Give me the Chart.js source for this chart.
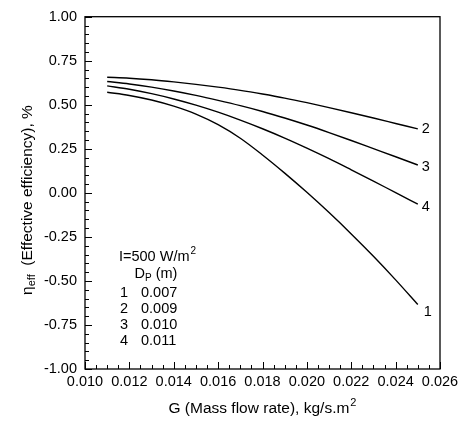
<!DOCTYPE html>
<html><head><meta charset="utf-8">
<script src="https://cdn.jsdelivr.net/npm/chart.js@4"></script>
<style>html,body{margin:0;padding:0;background:#fff;overflow:hidden}#wrap{width:468px;height:423px}</style>
</head><body><div id="wrap"><canvas id="c" width="468" height="423"></canvas></div>
<script>
// ---- data ----
const massFlow = [0.011,0.012,0.013,0.014,0.015,0.016,0.017,0.018,0.019,0.020,0.021,0.022,0.023,0.024,0.025];
const eta1 = [0.571,0.553,0.527,0.492,0.447,0.387,0.310,0.215,0.112,0.003,-0.112,-0.233,-0.360,-0.494,-0.634]; // Dp 0.007
const eta2 = [0.656,0.651,0.642,0.630,0.616,0.600,0.582,0.561,0.538,0.512,0.484,0.455,0.425,0.394,0.363]; // Dp 0.009
const eta3 = [0.632,0.618,0.600,0.578,0.553,0.525,0.495,0.462,0.425,0.385,0.342,0.297,0.251,0.205,0.158]; // Dp 0.010
const eta4 = [0.607,0.588,0.563,0.533,0.498,0.458,0.413,0.364,0.311,0.254,0.194,0.131,0.067,0.001,-0.064]; // Dp 0.011
const seriesLabels = ['1','2','3','4'];
const diameters = ['0.007','0.009','0.010','0.011'];
const xMin = 0.010, xMax = 0.026, xStep = 0.002, xMinor = 0.0005;
const yMin = -1.0, yMax = 1.0, yStep = 0.25, yMinor = 0.05;
const irradianceText = 'I=500 W/m';
const xTitle = 'G (Mass flow rate), kg/s.m';
const yTitleMain = '(Effective efficiency), %';

const FONT = '"Liberation Sans", Arial, Helvetica, sans-serif';
const TF = 15.5; // title font size
const allSeries = [eta1, eta2, eta3, eta4];
const labelOffsets = [[6,7],[4,0],[4,2],[4,3]];

const datasets = allSeries.map((s, k) => ({
  label: seriesLabels[k],
  data: massFlow.map((x, i) => ({x: x, y: s[i]})),
  borderColor: '#000', borderWidth: 1.4, pointRadius: 0,
  fill: false, cubicInterpolationMode: 'monotone'
}));

const decor = {
  id: 'decor',
  afterDraw(chart) {
    const ctx = chart.ctx, a = chart.chartArea;
    const xs = chart.scales.x, ys = chart.scales.y;
    ctx.save();
    ctx.strokeStyle = '#000'; ctx.lineWidth = 1.3;
    ctx.strokeRect(a.left, a.top, a.right - a.left, a.bottom - a.top);
    ctx.lineWidth = 1;
    ctx.beginPath();
    const nY = Math.round((yMax - yMin) / yMinor);
    for (let i = 0; i <= nY; i++) {
      const v = yMin + i * yMinor;
      const p = Math.round(ys.getPixelForValue(v)) + 0.5;
      const len = (i % Math.round(yStep / yMinor) === 0) ? 7 : 4;
      ctx.moveTo(a.left, p); ctx.lineTo(a.left + len, p);
    }
    const nX = Math.round((xMax - xMin) / xMinor);
    for (let i = 0; i <= nX; i++) {
      const v = xMin + i * xMinor;
      const p = Math.round(xs.getPixelForValue(v)) + 0.5;
      const len = (i % Math.round(xStep / xMinor) === 0) ? 7 : 4;
      ctx.moveTo(p, a.bottom); ctx.lineTo(p, a.bottom - len);
    }
    ctx.stroke();

    ctx.fillStyle = '#000';
    ctx.font = '14.5px ' + FONT;
    ctx.textBaseline = 'middle';
    ctx.textAlign = 'left';
    // curve end labels
    chart.data.datasets.forEach((ds, k) => {
      const pts = chart.getDatasetMeta(k).data;
      const last = pts[pts.length - 1];
      ctx.fillText(seriesLabels[k], last.x + labelOffsets[k][0], last.y + labelOffsets[k][1]);
    });

    // legend block
    const lx = a.left + 34, ly = a.bottom - 112;
    ctx.fillText(irradianceText, lx, ly);
    let w = ctx.measureText(irradianceText).width;
    ctx.font = '10px ' + FONT;
    ctx.fillText('2', lx + w + 1, ly - 6);
    ctx.font = '14.5px ' + FONT;
    const dx = lx + 15.5, dy = ly + 17;
    ctx.fillText('D', dx, dy);
    w = ctx.measureText('D').width;
    ctx.font = '10px ' + FONT;
    ctx.fillText('P', dx + w, dy + 4);
    const wp = ctx.measureText('P').width;
    ctx.font = '14.5px ' + FONT;
    ctx.fillText(' (m)', dx + w + wp, dy);
    for (let k = 0; k < diameters.length; k++) {
      const ry = ly + 35.5 + k * 16.3;
      ctx.fillText(seriesLabels[k], lx + 1, ry);
      ctx.fillText(diameters[k], lx + 22, ry);
    }

    // x title
    ctx.font = TF + 'px ' + FONT;
    const tw = ctx.measureText(xTitle).width;
    ctx.font = '11px ' + FONT;
    const sw = ctx.measureText('2').width;
    const cx = (a.left + a.right) / 2;
    const tx = cx - (tw + sw + 1) / 2;
    ctx.font = TF + 'px ' + FONT;
    ctx.fillText(xTitle, tx, 409);
    ctx.font = '11px ' + FONT;
    ctx.fillText('2', tx + tw + 1, 403);

    // y title (rotated)
    ctx.translate(28, 200);
    ctx.rotate(-Math.PI / 2);
    ctx.font = TF + 'px ' + FONT;
    const we = ctx.measureText('\u03b7').width;
    ctx.font = '11px ' + FONT;
    const ws = ctx.measureText('eff').width;
    ctx.font = TF + 'px ' + FONT;
    const wm = ctx.measureText('  ' + yTitleMain).width;
    let sx = -(we + ws + wm) / 2;
    ctx.fillText('\u03b7', sx, 0);
    ctx.font = '11px ' + FONT;
    ctx.fillText('eff', sx + we, 4);
    ctx.font = TF + 'px ' + FONT;
    ctx.fillText('  ' + yTitleMain, sx + we + ws, 0);
    ctx.restore();
  }
};

new Chart(document.getElementById('c'), {
  type: 'line',
  data: { datasets: datasets },
  options: {
    responsive: false, animation: false, devicePixelRatio: 1,
    layout: { padding: { top: 15, right: 28, left: 0, bottom: 0 } },
    plugins: { legend: { display: false }, tooltip: { enabled: false }, title: { display: false } },
    scales: {
      x: {
        type: 'linear', min: xMin, max: xMax,
        afterFit(s) { s.height = 54; },
        afterBuildTicks(s) {
          const t = []; const n = Math.round((xMax - xMin) / xStep);
          for (let i = 0; i <= n; i++) t.push({ value: xMin + i * xStep });
          s.ticks = t;
        },
        ticks: { callback: v => v.toFixed(3), color: '#000', font: { size: 14.5, family: FONT }, padding: 4, maxRotation: 0, autoSkip: false },
        grid: { display: false, drawTicks: false }, border: { display: false }
      },
      y: {
        type: 'linear', min: yMin, max: yMax,
        afterFit(s) { s.width = 85; },
        afterBuildTicks(s) {
          const t = []; const n = Math.round((yMax - yMin) / yStep);
          for (let i = 0; i <= n; i++) t.push({ value: yMin + i * yStep });
          s.ticks = t;
        },
        ticks: { callback: v => v.toFixed(2), color: '#000', font: { size: 14.5, family: FONT }, padding: 8, autoSkip: false },
        grid: { display: false, drawTicks: false }, border: { display: false }
      }
    }
  },
  plugins: [decor]
});
</script>
</body></html>
